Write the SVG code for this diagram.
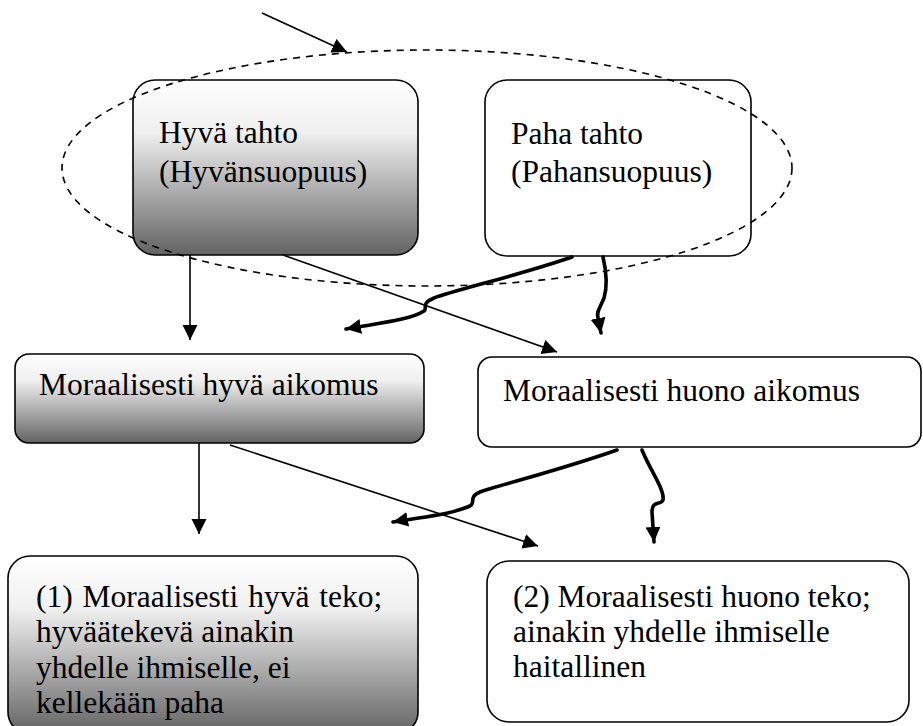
<svg xmlns="http://www.w3.org/2000/svg" width="923" height="726" viewBox="0 0 923 726">
<style>
.box{stroke:#000;stroke-width:1.6}
.g{fill:url(#grad)}
.w{fill:#fff}
.t{font-family:"Liberation Serif","Times New Roman",serif;font-size:31.5px;fill:#000}
.thin{fill:none;stroke:#000;stroke-width:1.6;marker-end:url(#ah)}
.thick{fill:none;stroke:#000;stroke-width:3.6;stroke-linecap:round;marker-end:url(#ah)}
</style>
<defs>
<linearGradient id="grad" x1="0" y1="0" x2="0" y2="1">
<stop offset="0" stop-color="#ffffff"/>
<stop offset="0.3" stop-color="#efefef"/>
<stop offset="1" stop-color="#636363"/>
</linearGradient>
<marker id="ah" markerUnits="userSpaceOnUse" markerWidth="16" markerHeight="16" refX="15" refY="7.5" orient="auto" viewBox="0 0 16 16">
<path d="M0,0 L15,7.5 L0,15 z" fill="#000"/>
</marker>
</defs>
<rect width="923" height="726" fill="#fff"/>
<g id="n1"><rect class="box g" x="133" y="80" width="285" height="175" rx="22"/>
<text class="t" x="159" y="143">Hyvä tahto</text><text class="t" x="159" y="182">(Hyvänsuopuus)</text></g>
<g id="n2"><rect class="box w" x="485" y="80" width="266" height="176" rx="22"/>
<text class="t" x="511" y="144">Paha tahto</text><text class="t" x="511" y="182">(Pahansuopuus)</text></g>
<g id="n3"><rect class="box g" x="15" y="354" width="409" height="89" rx="14"/>
<text class="t" x="39" y="395">Moraalisesti hyvä aikomus</text></g>
<g id="n4"><rect class="box w" x="478" y="357" width="443" height="90" rx="14"/>
<text class="t" x="503" y="401">Moraalisesti huono aikomus</text></g>
<g id="n5"><rect class="box g" x="8" y="556" width="410" height="178" rx="22"/>
<text class="t" x="36" y="607" word-spacing="2">(1) Moraalisesti hyvä teko;</text><text class="t" x="36" y="642">hyväätekevä ainakin</text><text class="t" x="36" y="678">yhdelle ihmiselle, ei</text><text class="t" x="36" y="713">kellekään paha</text></g>
<g id="n6"><rect class="box w" x="487" y="561" width="422" height="161" rx="22"/>
<text class="t" x="513" y="607">(2) Moraalisesti huono teko;</text><text class="t" x="513" y="642">ainakin yhdelle ihmiselle</text><text class="t" x="513" y="677">haitallinen</text></g>
<g id="group"><ellipse cx="427" cy="168" rx="365" ry="118" fill="none" stroke="#000" stroke-width="1.6" stroke-dasharray="7,6"/></g>
<g id="connectors">
<path class="thin" d="M262,13 L347,52"/>
<path class="thin" d="M190,255 L190,340"/>
<path class="thin" d="M283,255 L557,352"/>
<path class="thin" d="M199,443 L199,534"/>
<path class="thin" d="M230,445 L538,546"/>
<path class="thick" d="M572,257 C520,275 455,290 434,298 C420,304 428,308 424,311 C410,320 380,323 346,329"/>
<path class="thick" d="M603,257 C606,270 608,285 604,298 C600,308 596,312 598,318 L601,333"/>
<path class="thick" d="M617,450 C560,470 500,485 480,492 C468,497 476,503 470,506 C450,515 420,517 393,522"/>
<path class="thick" d="M642,450 C650,470 665,490 663,500 C660,506 652,500 652,512 L654,542"/>
</g>
</svg>
